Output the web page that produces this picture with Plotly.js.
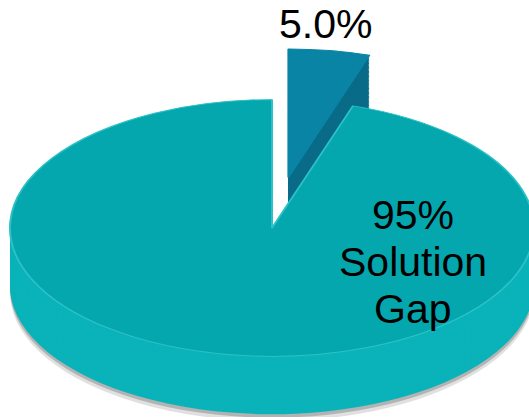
<!DOCTYPE html>
<html><head><meta charset="utf-8">
<script src="https://cdn.plot.ly/plotly-3.0.1.min.js"></script>
<style>
html,body{margin:0;padding:0;background:#fff;}
#wrap{position:relative;width:529px;height:417px;overflow:hidden;background:#fff;}
#pie{position:absolute;left:0;top:0;width:1000px;height:1000px;transform-origin:0 0;transform:translate(-228px,41.8px) scaleY(0.49);}
#labels{position:absolute;left:0;top:0;width:529px;height:417px;}
</style></head><body>
<div id="wrap"><div id="pie"></div><div id="labels"></div></div>
<script>
// ---- data ----
const categories = ["Other", "Solution Gap"];
const values = [5, 95];
const pullOut = [0.40, 0];
const topColors = ["#0a84a5", "#04a7ad"];
const sideColors = ["#0a6c88", "#0ab3b9"];
const edgeColors = ["#0a84a5", "#2cc1c6"];

// ---- pseudo-3D pie: stacked pies, squashed vertically ----
const half = 0.3668;       // half domain size (paper fraction)
const cx = 0.5, cy = 0.62; // top face centre
const depth = 0.118;       // thickness (paper fraction, unscaled)
const N = 44;
const traces = [];

function pieTrace(offset, colors, lineColors, lineWidth) {
  return {
    type: "pie",
    labels: categories,
    values: values,
    sort: false,
    direction: "clockwise",
    rotation: 0,
    pull: pullOut,
    textinfo: "none",
    hoverinfo: "none",
    showlegend: false,
    marker: {colors: colors, line: {color: lineColors, width: lineWidth}},
    domain: {x: [cx - half, cx + half], y: [cy - offset - half, cy - offset + half]}
  };
}
// soft shadow
traces.push(pieTrace(depth + 0.014, ["rgba(0,0,0,0.12)", "rgba(0,0,0,0.12)"], ["rgba(0,0,0,0)", "rgba(0,0,0,0)"], 0));
traces.push(pieTrace(depth + 0.007, ["rgba(0,0,0,0.2)", "rgba(0,0,0,0.2)"], ["rgba(0,0,0,0)", "rgba(0,0,0,0)"], 0));
for (let i = N; i >= 1; i--) {
  traces.push(pieTrace(depth * i / N, sideColors, sideColors, 0));
}
traces.push(pieTrace(0, topColors, edgeColors, 2));

Plotly.newPlot("pie", traces, {
  width: 1000, height: 1000,
  margin: {l: 0, r: 0, t: 0, b: 0},
  paper_bgcolor: "rgba(0,0,0,0)", plot_bgcolor: "rgba(0,0,0,0)",
  showlegend: false
}, {staticPlot: true, displayModeBar: false});

// ---- labels ----
const total = values.reduce((a, b) => a + b, 0);
const pct = values.map(v => v / total * 100);
const smallLabel = pct[0].toFixed(1) + "%";
const bigLines = [pct[1].toFixed(0) + "%"].concat(categories[1].split(" "));
const font = {family: "Liberation Sans, Arial, sans-serif", size: 41, color: "#000"};
const W = 529, H = 417;
const ann = [{x: 325 / W, y: 1 - 24 / H, text: smallLabel}];
const bigY = [215, 262, 309];
bigLines.forEach((t, i) => ann.push({x: 413 / W, y: 1 - bigY[i] / H, text: t}));
ann.forEach(a => { a.xref = "paper"; a.yref = "paper"; a.showarrow = false; a.xanchor = "center"; a.yanchor = "middle"; a.font = font; });

Plotly.newPlot("labels", [], {
  width: W, height: H,
  margin: {l: 0, r: 0, t: 0, b: 0},
  paper_bgcolor: "rgba(0,0,0,0)", plot_bgcolor: "rgba(0,0,0,0)",
  xaxis: {visible: false}, yaxis: {visible: false},
  annotations: ann
}, {staticPlot: true, displayModeBar: false});
</script>
</body></html>
